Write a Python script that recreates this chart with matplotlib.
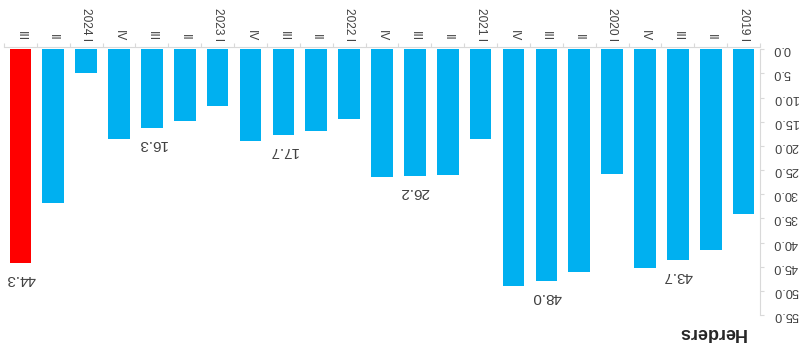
import matplotlib
matplotlib.use("Agg")
import matplotlib.pyplot as plt
import numpy as np

plt.rcParams['font.family'] = ['Liberation Sans', 'DejaVu Sans']

categories = ["2019 I", "II", "III", "IV",
              "2020 I", "II", "III", "IV",
              "2021 I", "II", "III", "IV",
              "2022 I", "II", "III", "IV",
              "2023 I", "II", "III", "IV",
              "2024 I", "II", "III"]
values = [34.0, 41.5, 43.7, 45.2,
          25.9, 46.2, 48.0, 49.1,
          18.6, 26.0, 26.2, 26.5,
          14.4, 16.9, 17.7, 18.9,
          11.7, 14.8, 16.3, 18.6,
          5.0, 31.8, 44.3]
labelled = [2, 6, 10, 14, 18, 22]   # Q3 of each year
yticks = [0, 5, 10, 15, 20, 25, 30, 35, 40, 45, 50, 55]
axis_title = "Herders"

blue = "#00B0F0"
red = "#FF0000"
grey = "#D9D9D9"
txt = "#404040"

W, H = 804, 348
fig = plt.figure(figsize=(W / 100, H / 100), dpi=100)
left, right = 4 / W, 760 / W
bottom, top = 1 - 315 / H, 1 - 49.3 / H
ax = fig.add_axes([left, bottom, right - left, top - bottom])

x = np.arange(len(categories))
colors = [blue] * (len(values) - 1) + [red]
ax.bar(x, values, width=0.66, color=colors, linewidth=0)

ax.set_xlim(len(categories) - 0.5, -0.5)
ax.set_ylim(55, 0)

for s in ["left", "bottom"]:
    ax.spines[s].set_visible(False)
ax.spines["top"].set_color(grey)
ax.spines["right"].set_color(grey)
ax.spines["top"].set_position(("outward", 2))

# x axis at top
ax.xaxis.tick_top()
ax.set_xticks(np.arange(len(categories) + 1) - 0.5)
ax.set_xticklabels([])
ax.set_xticks(x, minor=True)
ax.set_xticklabels(categories, minor=True)
ax.tick_params(axis="x", which="major", length=3, color=grey, top=True, bottom=False)
ax.tick_params(axis="x", which="minor", length=0, pad=4, labelsize=8.6, labelcolor=txt,
               top=True, bottom=False, labeltop=True, labelbottom=False)
for lab in ax.get_xticklabels(minor=True):
    lab.set_rotation(270)
    lab.set_va("bottom")
    lab.set_ha("center")

# y axis at right
ax.yaxis.tick_right()
ax.set_yticks(yticks)
ax.set_yticklabels([f"{v:.1f}" for v in yticks])
ax.tick_params(axis="y", length=3, color=grey, pad=6.5, labelsize=9.2, labelcolor=txt,
               right=True, left=False)
for lab in ax.get_yticklabels():
    lab.set_rotation(180)
    lab.set_ha("left")
    lab.set_va("center")

for i in labelled:
    ax.annotate(f"{values[i]:.1f}", xy=(x[i], values[i]), xytext=(0, -9),
                textcoords="offset pixels", rotation=180, ha="center", va="top",
                fontsize=11, color=txt)

fig.text(711.7 / W, 1 - 333 / H, axis_title, rotation=180, ha="center", va="center",
         fontsize=13, fontweight="bold", color="#262626")

fig.savefig("out.png", dpi=100)
